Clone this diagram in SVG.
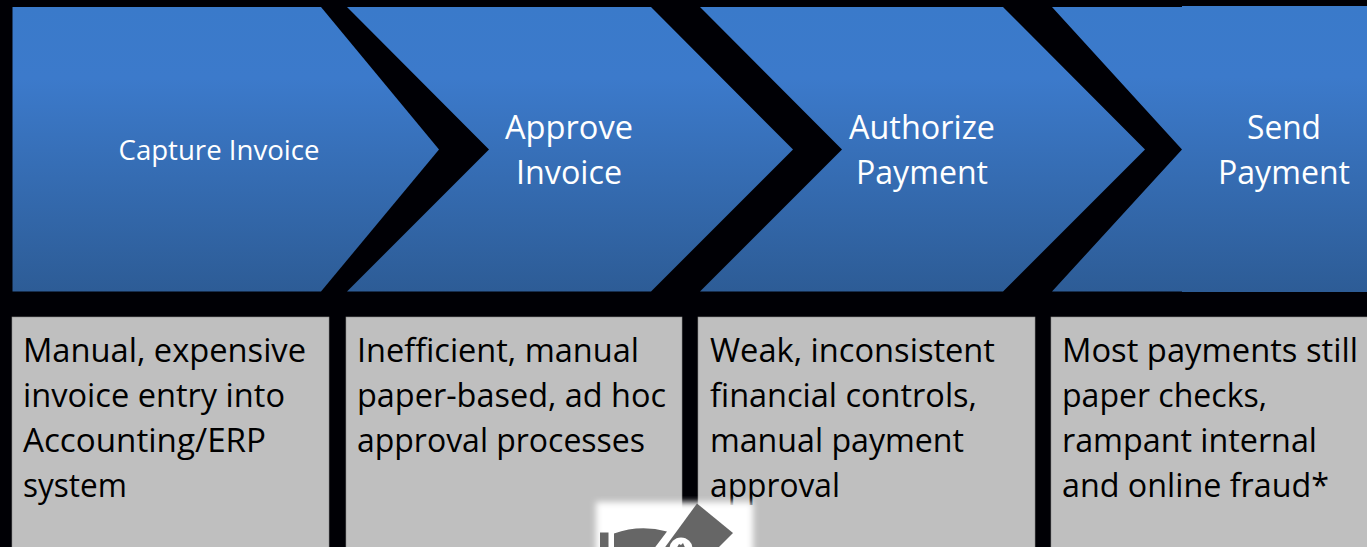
<svg xmlns="http://www.w3.org/2000/svg" width="1367" height="547" viewBox="0 0 1367 547">
<style>
text{font-family:"Open Sans","Noto Sans",sans-serif;font-size:32px}
.h{fill:#fff;text-anchor:middle}
.s{font-size:27px;fill:#fff;text-anchor:middle}
.b{fill:#000}
.box{fill:#bfbfbf;stroke:#8c8c8c;stroke-width:.6}
.chev{fill:url(#g)}
</style>
<defs>
<linearGradient id="g" x1="0" y1="0" x2="0" y2="1"><stop offset="0" stop-color="#3a7aca"/><stop offset=".25" stop-color="#3c7acb"/><stop offset="1" stop-color="#2d5c96"/></linearGradient>
<filter id="blur" x="-10%" y="-10%" width="120%" height="120%"><feGaussianBlur stdDeviation="3"/></filter>
</defs>
<rect width="1367" height="547" fill="#000005"/>
<g id="step1"><path class="chev" d="M12.500 7H321L439 149.500 321 291.500H12.500Z"/><text class="s" x="219" y="160" textLength="201" lengthAdjust="spacingAndGlyphs">Capture Invoice</text></g>
<g id="step2"><path class="chev" d="M347 7H651L793 149.500 651 291.500H347L489 149.500Z"/><text class="h" x="569" y="139" textLength="128" lengthAdjust="spacingAndGlyphs">Approve</text><text class="h" x="569" y="184" textLength="106" lengthAdjust="spacingAndGlyphs">Invoice</text></g>
<g id="step3"><path class="chev" d="M700 7H1003L1145 149.500 1003 291.500H700L842 149.500Z"/><text class="h" x="922" y="139" textLength="146" lengthAdjust="spacingAndGlyphs">Authorize</text><text class="h" x="922" y="184" textLength="132" lengthAdjust="spacingAndGlyphs">Payment</text></g>
<g id="step4"><path class="chev" d="M1052 7H1182V6H1367V292H1182V291.500H1052L1182 149.500Z"/><text class="h" x="1284" y="139" textLength="74" lengthAdjust="spacingAndGlyphs">Send</text><text class="h" x="1284" y="184" textLength="132" lengthAdjust="spacingAndGlyphs">Payment</text></g>
<g id="box1"><rect class="box" x="12" y="317" width="317" height="235"/><text class="b" x="23" y="362" textLength="283" lengthAdjust="spacingAndGlyphs">Manual, expensive</text><text class="b" x="23" y="407" textLength="262" lengthAdjust="spacingAndGlyphs">invoice entry into</text><text class="b" x="23" y="452" textLength="243" lengthAdjust="spacingAndGlyphs">Accounting/ERP</text><text class="b" x="23" y="497" textLength="104" lengthAdjust="spacingAndGlyphs">system</text></g>
<g id="box2"><rect class="box" x="346" y="317" width="336" height="235"/><text class="b" x="357" y="362" textLength="282" lengthAdjust="spacingAndGlyphs">Inefficient, manual</text><text class="b" x="357" y="407" textLength="309" lengthAdjust="spacingAndGlyphs">paper-based, ad hoc</text><text class="b" x="357" y="452" textLength="288" lengthAdjust="spacingAndGlyphs">approval processes</text></g>
<g id="box3"><rect class="box" x="698" y="317" width="337" height="235"/><text class="b" x="710" y="362" textLength="285" lengthAdjust="spacingAndGlyphs">Weak, inconsistent</text><text class="b" x="710" y="407" textLength="267" lengthAdjust="spacingAndGlyphs">financial controls,</text><text class="b" x="710" y="452" textLength="254" lengthAdjust="spacingAndGlyphs">manual payment</text><text class="b" x="710" y="497" textLength="130" lengthAdjust="spacingAndGlyphs">approval</text></g>
<g id="box4"><rect class="box" x="1051" y="317" width="320" height="235"/><text class="b" x="1062" y="362" textLength="296" lengthAdjust="spacingAndGlyphs">Most payments still</text><text class="b" x="1062" y="407" textLength="205" lengthAdjust="spacingAndGlyphs">paper checks,</text><text class="b" x="1062" y="452" textLength="255" lengthAdjust="spacingAndGlyphs">rampant internal</text><text class="b" x="1062" y="497" textLength="267" lengthAdjust="spacingAndGlyphs">and online fraud*</text></g>
<g id="icon"><rect x="596" y="502" width="157" height="60" fill="#fff" filter="url(#blur)"/><path d="M697 503.500L733 533 716 550H663Z" fill="#666"/><path d="M600 532.500H608.500V550H600ZM614 533.500Q640 524 667 531.500L653 550H614Z" fill="#666"/><circle cx="681" cy="549" r="11.500" fill="#fff"/><path d="M677 547.500L679 544 681 545 683 543 685 547.500Z" fill="#666"/></g>
</svg>
